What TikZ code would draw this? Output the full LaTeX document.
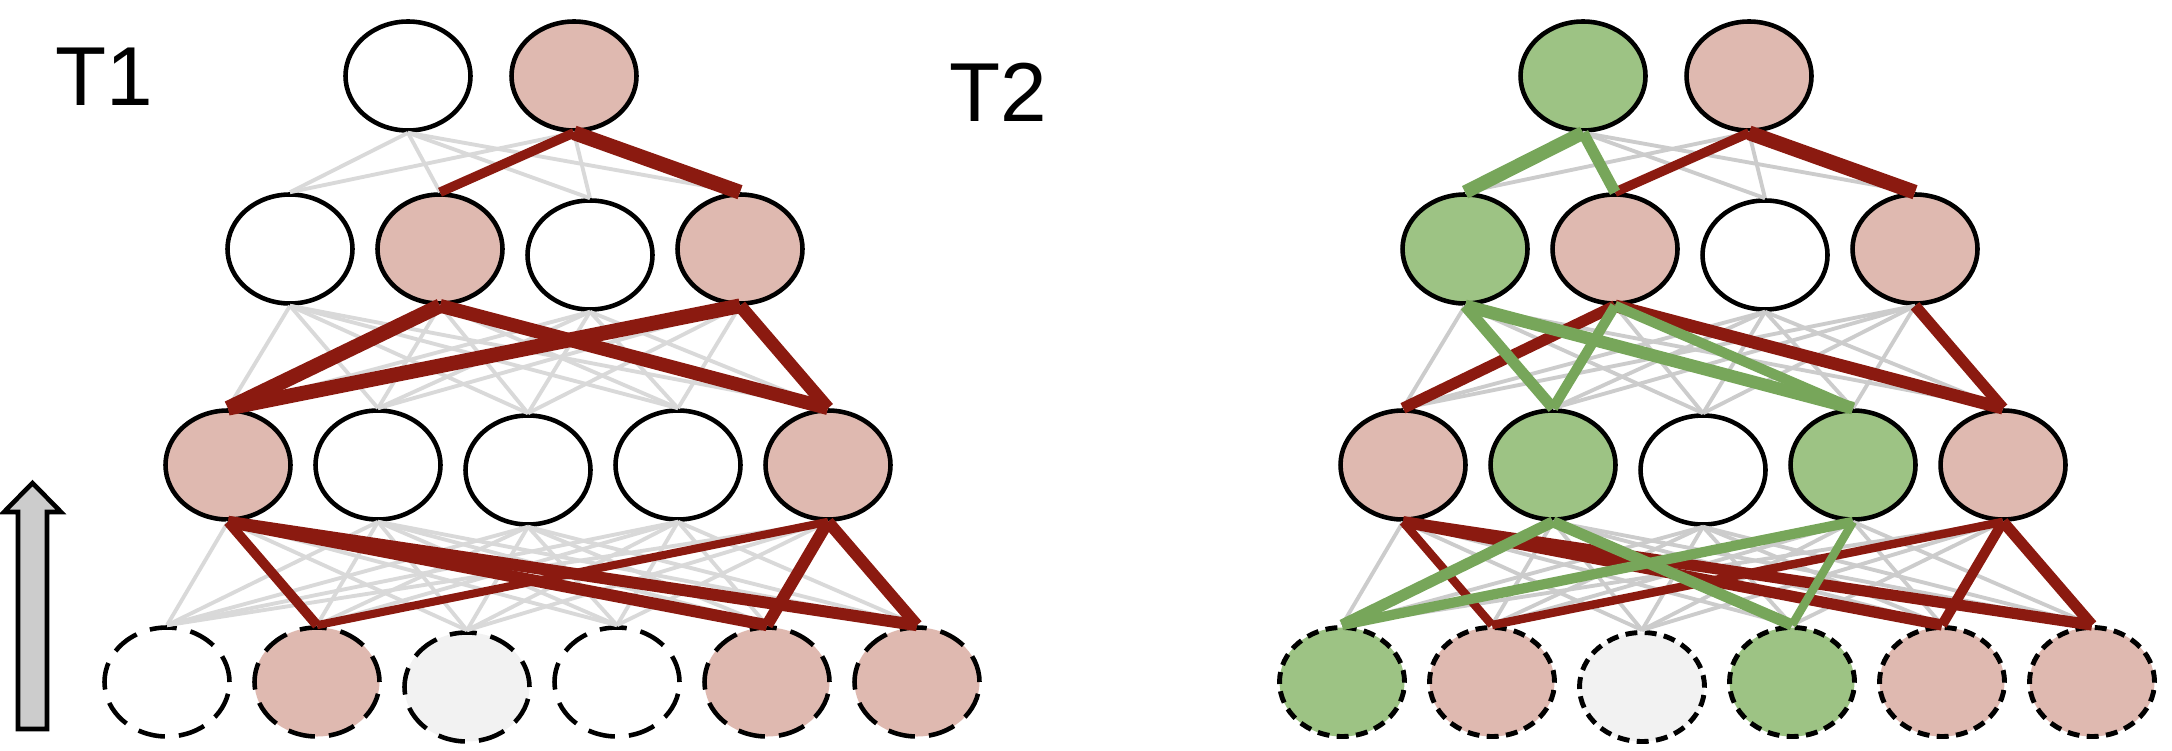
\documentclass[tikz,border=0pt]{standalone}
\usepackage{fontspec}
\setmainfont{Liberation Sans}
\usetikzlibrary{shapes.geometric}

\definecolor{nodepink}{HTML}{DFB9B0}
\definecolor{nodegreen}{HTML}{9DC384}
\definecolor{nodelite}{HTML}{F2F2F2}
\definecolor{wirered}{HTML}{8B1A10}
\definecolor{wiregreen}{HTML}{77A65A}
\definecolor{wiregreyA}{HTML}{D9D9D9}
\definecolor{wiregreyB}{HTML}{CCCCCC}
\definecolor{arrowgrey}{HTML}{CCCCCC}

\tikzset{
    unit/.style={ellipse, draw=black, line width=1.3pt,
        minimum width=1.25cm, minimum height=1.09cm, inner sep=0pt},
    inputA/.style={unit, dash pattern=on 7.7pt off 4pt},
    inputB/.style={unit, line width=1.4pt, dash pattern=on 3.4pt off 2.1pt},
    wire/.style={draw=#1, line width=1.1pt},
    hot/.style={draw=wirered, line width=#1},
    hot/.default=3.4pt,
    good/.style={draw=wiregreen, line width=#1},
    good/.default=3.4pt,
    tag/.style={font=\fontsize{23.8}{28}\selectfont, inner sep=0pt}
}

\begin{document}
\begin{tikzpicture}
\useasboundingbox (0,0) rectangle (21.72,7.5);

% Labels
\node[tag] (lab1) at (1.04,6.73) {T1};
\node[tag] (lab2) at (9.98,6.575) {T2};

% Direction arrow
\draw[line width=1.3pt, fill=arrowgrey] (0.325,2.67) -- (0.61,2.38) -- (0.47,2.38)
    -- (0.47,0.21) -- (0.18,0.21) -- (0.18,2.38) -- (0.04,2.38) -- cycle;

% Network T1
\node[unit] (T1a1) at (4.08,6.74) {};
\node[unit, fill=nodepink] (T1a2) at (5.74,6.74) {};

\node[unit] (T1b1) at (2.90,5.01) {};
\node[unit, fill=nodepink] (T1b2) at (4.40,5.01) {};
\node[unit] (T1b3) at (5.90,4.95) {};
\node[unit, fill=nodepink] (T1b4) at (7.40,5.01) {};

\node[unit, fill=nodepink] (T1c1) at (2.28,2.85) {};
\node[unit] (T1c2) at (3.78,2.85) {};
\node[unit] (T1c3) at (5.28,2.80) {};
\node[unit] (T1c4) at (6.78,2.85) {};
\node[unit, fill=nodepink] (T1c5) at (8.28,2.85) {};

\node[inputA] (T1d1) at (1.67,0.68) {};
\node[inputA, fill=nodepink] (T1d2) at (3.17,0.68) {};
\node[inputA, fill=nodelite] (T1d3) at (4.67,0.63) {};
\node[inputA] (T1d4) at (6.17,0.68) {};
\node[inputA, fill=nodepink] (T1d5) at (7.67,0.68) {};
\node[inputA, fill=nodepink] (T1d6) at (9.17,0.68) {};

% Network T2
\begin{scope}[xshift=11.75cm]
\node[unit, fill=nodegreen] (T2a1) at (4.08,6.74) {};
\node[unit, fill=nodepink] (T2a2) at (5.74,6.74) {};

\node[unit, fill=nodegreen] (T2b1) at (2.90,5.01) {};
\node[unit, fill=nodepink] (T2b2) at (4.40,5.01) {};
\node[unit] (T2b3) at (5.90,4.95) {};
\node[unit, fill=nodepink] (T2b4) at (7.40,5.01) {};

\node[unit, fill=nodepink] (T2c1) at (2.28,2.85) {};
\node[unit, fill=nodegreen] (T2c2) at (3.78,2.85) {};
\node[unit] (T2c3) at (5.28,2.80) {};
\node[unit, fill=nodegreen] (T2c4) at (6.78,2.85) {};
\node[unit, fill=nodepink] (T2c5) at (8.28,2.85) {};

\node[inputB, fill=nodegreen] (T2d1) at (1.67,0.68) {};
\node[inputB, fill=nodepink] (T2d2) at (3.17,0.68) {};
\node[inputB, fill=nodelite] (T2d3) at (4.67,0.63) {};
\node[inputB, fill=nodegreen] (T2d4) at (6.17,0.68) {};
\node[inputB, fill=nodepink] (T2d5) at (7.67,0.68) {};
\node[inputB, fill=nodepink] (T2d6) at (9.17,0.68) {};
\end{scope}

% All connections
\foreach \n/\g in {T1/wiregreyA, T2/wiregreyB} {
    \foreach \i in {1,2} \foreach \j in {1,...,4}
        \draw[wire=\g] (\n a\i.south) -- (\n b\j.north);
    \foreach \i in {1,...,4} \foreach \j in {1,...,5}
        \draw[wire=\g] (\n b\i.south) -- (\n c\j.north);
    \foreach \i in {1,...,5} \foreach \j in {1,...,6}
        \draw[wire=\g] (\n c\i.south) -- (\n d\j.north);
}

% Strong paths in T1
\draw[hot=2.7pt] (T1a2.south) -- (T1b2.north);
\draw[hot=4.2pt] (T1a2.south) -- (T1b4.north);
\draw[hot=4.2pt] (T1b2.south) -- (T1c1.north);
\draw[hot=3.9pt] (T1b2.south) -- (T1c5.north);
\draw[hot=4.2pt] (T1b4.south) -- (T1c1.north);
\draw[hot=3.7pt] (T1b4.south) -- (T1c5.north);
\draw[hot=2.8pt] (T1c1.south) -- (T1d2.north);
\draw[hot] (T1c1.south) -- (T1d5.north);
\draw[hot] (T1c1.south) -- (T1d6.north);
\draw[hot=2.3pt] (T1c5.south) -- (T1d2.north);
\draw[hot] (T1c5.south) -- (T1d5.north);
\draw[hot] (T1c5.south) -- (T1d6.north);

% Strong paths in T2
\draw[hot=2.7pt] (T2a2.south) -- (T2b2.north);
\draw[hot=4.2pt] (T2a2.south) -- (T2b4.north);
\draw[hot=3.2pt] (T2b2.south) -- (T2c1.north);
\draw[hot=3.6pt] (T2b2.south) -- (T2c5.north);
\draw[hot=3.2pt] (T2b4.south) -- (T2c5.north);
\draw[hot=2.4pt] (T2c1.south) -- (T2d2.north);
\draw[hot=3.2pt] (T2c1.south) -- (T2d5.north);
\draw[hot=3.2pt] (T2c1.south) -- (T2d6.north);
\draw[hot=2.4pt] (T2c5.south) -- (T2d2.north);
\draw[hot=2.9pt] (T2c5.south) -- (T2d5.north);
\draw[hot=3.2pt] (T2c5.south) -- (T2d6.north);
\draw[good=3.9pt] (T2a1.south) -- (T2b1.north);
\draw[good=3.2pt] (T2a1.south) -- (T2b2.north);
\draw[good=3.2pt] (T2b1.south) -- (T2c2.north);
\draw[good=3.6pt] (T2b1.south) -- (T2c4.north);
\draw[good=2.9pt] (T2b2.south) -- (T2c2.north);
\draw[good=2.9pt] (T2b2.south) -- (T2c4.north);
\draw[good=3.2pt] (T2c2.south) -- (T2d1.north);
\draw[good=3.2pt] (T2c2.south) -- (T2d4.north);
\draw[good=2.9pt] (T2c4.south) -- (T2d1.north);
\draw[good=2.4pt] (T2c4.south) -- (T2d4.north);

\end{tikzpicture}
\end{document}
